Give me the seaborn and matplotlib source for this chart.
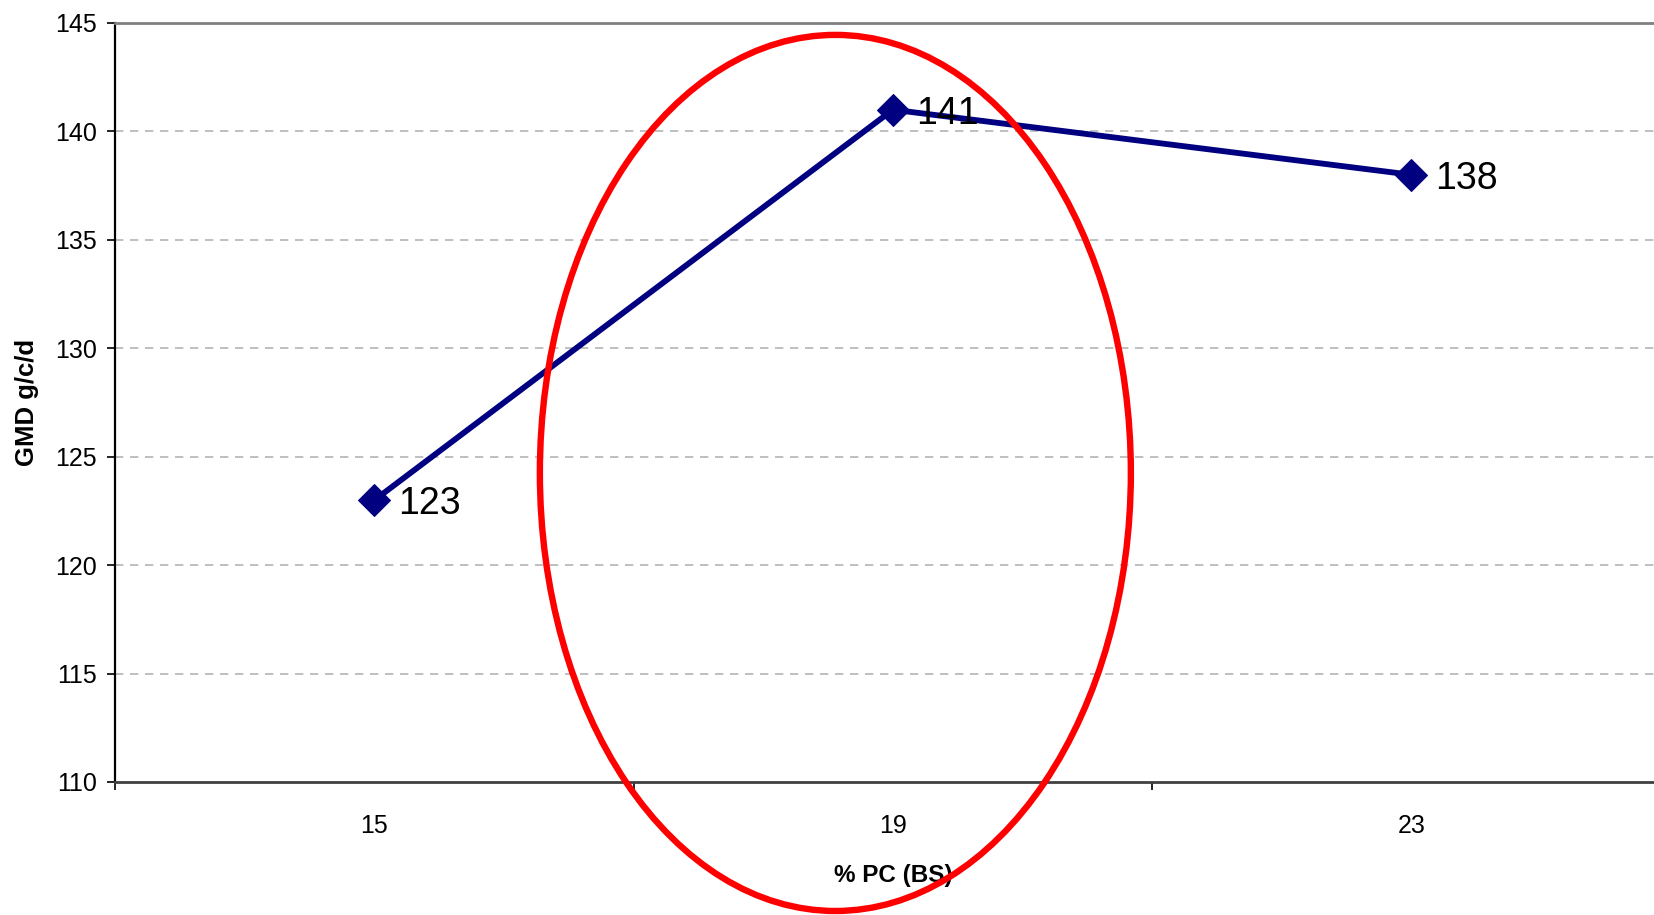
import matplotlib
matplotlib.use("Agg")
import matplotlib.pyplot as plt
from matplotlib.patches import Ellipse
from matplotlib.ticker import FixedLocator
import seaborn as sns
import pandas as pd

# ---- data ----
categories = ["15", "19", "23"]
gmd_values = [123, 141, 138]
y_ticks = [110, 115, 120, 125, 130, 135, 140, 145]
x_label = "% PC (BS)"
y_label = "GMD g/c/d"

sns.set_theme(style="white")
plt.rcParams['font.family'] = ['Liberation Sans', 'DejaVu Sans']
plt.rcParams['text.color'] = 'black'
plt.rcParams['axes.labelcolor'] = 'black'
plt.rcParams['xtick.color'] = 'black'
plt.rcParams['ytick.color'] = 'black'

df = pd.DataFrame({"pos": range(len(categories)), "cat": categories, "gmd": gmd_values})

fig = plt.figure(figsize=(16.54, 9.15), dpi=100)
ax = fig.add_axes([0.0697, 0.1454, 0.9403, 0.8295])

sns.lineplot(data=df, x="pos", y="gmd", ax=ax, color="#000080", linewidth=4.2,
             marker="D", markersize=16, markeredgecolor="#000080",
             markerfacecolor="#000080", zorder=4)

for p, v in zip(df["pos"], df["gmd"]):
    ax.annotate(str(v), (p, v), xytext=(17, -3), textcoords="offset points",
                fontsize=27, ha="left", va="center", color="black", zorder=6)

ax.set_xlim(-0.5, len(categories) - 0.5)
ax.set_ylim(110, 145)
ax.set_yticks(y_ticks)
ax.set_yticklabels([str(t) for t in y_ticks], fontsize=18)
ax.set_xticks(list(df["pos"]))
ax.set_xticklabels(categories, fontsize=18)
ax.xaxis.set_minor_locator(FixedLocator([i - 0.5 for i in range(len(categories) + 1)]))

ax.tick_params(axis="y", which="major", direction="out", length=6, width=1.2,
               color="black", labelcolor="black", pad=7, left=True)
ax.tick_params(axis="x", which="major", length=0, pad=23, labelcolor="black")
ax.tick_params(axis="x", which="minor", direction="out", length=6, width=1.2,
               color="black", bottom=True)

for y in y_ticks[1:-1]:
    ax.axhline(y, color="#b4b4b4", linewidth=1.2, linestyle=(0, (5, 4)), zorder=1)

ax.spines["left"].set_color("black")
ax.spines["left"].set_linewidth(1.6)
ax.spines["bottom"].set_color("#404040")
ax.spines["bottom"].set_linewidth(2)
ax.spines["top"].set_color("#808080")
ax.spines["top"].set_linewidth(2)
ax.spines["right"].set_visible(False)

ax.set_xlabel(x_label, fontsize=17.5, fontweight="bold", labelpad=19, color="black")
ax.set_ylabel(y_label, fontsize=18.5, fontweight="bold", labelpad=12, color="black")

ell = Ellipse((0.889, 124.25), width=1.14, height=40.4, fill=False,
              edgecolor="#ff0000", linewidth=4.6, clip_on=False, zorder=5)
ax.add_patch(ell)

fig.savefig("out.png", dpi=100)
